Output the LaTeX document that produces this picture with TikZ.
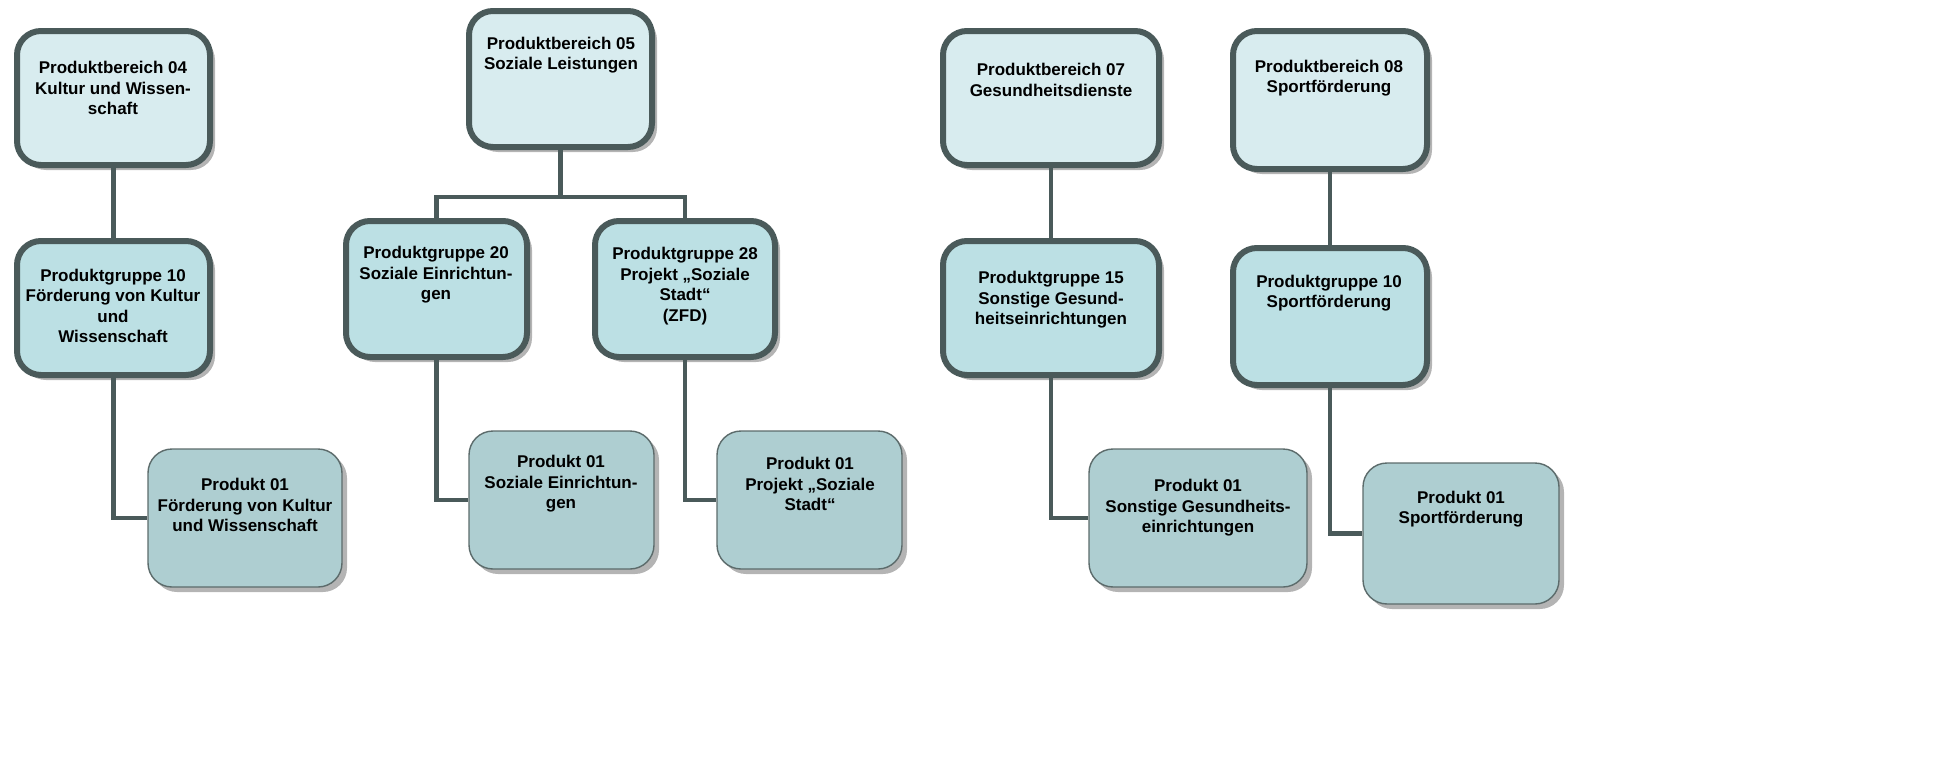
\documentclass[tikz,border=0pt]{standalone}
\usepackage{fontspec}
\setmainfont{Liberation Sans}
\usetikzlibrary{shadows,calc,backgrounds}
\begin{document}
\definecolor{edge}{HTML}{4A5A5A}
\definecolor{fillA}{HTML}{D8ECEF}
\definecolor{fillB}{HTML}{BCE0E4}
\definecolor{fillC}{HTML}{AECED1}
\definecolor{shade}{HTML}{B4B4B4}
\begin{tikzpicture}[x=0.5pt,y=-0.5pt,
  boxbase/.style={rounded corners=12pt, inner sep=0pt},
  topbox/.style={boxbase, draw=edge, line width=3pt, fill=fillA,
     drop shadow={shadow xshift=2.5pt, shadow yshift=-2.5pt, fill=shade, opacity=1}},
  grpbox/.style={boxbase, draw=edge, line width=3pt, fill=fillB,
     drop shadow={shadow xshift=2.5pt, shadow yshift=-2.5pt, fill=shade, opacity=1}},
  prodbox/.style={boxbase, draw=edge!90, line width=0.7pt, fill=fillC,
     drop shadow={shadow xshift=2.5pt, shadow yshift=-2.5pt, fill=shade, opacity=1}},
  txt/.style={align=center, font=\bfseries\fontsize{8.5}{10.25}\selectfont, inner sep=0pt},
  conn/.style={draw=edge, line width=2.3pt}]
\useasboundingbox (0,0) rectangle (1951,760);
% column 1
\node[topbox, minimum width=96.5pt, minimum height=67pt] (pb04) at (113.5,98) {};
\node[grpbox, minimum width=96.5pt, minimum height=67pt] (pg10a) at (113.5,308) {};
\node[prodbox, minimum width=97pt, minimum height=69pt] (p01a) at (245,518) {};
% column 2
\node[topbox, minimum width=91.5pt, minimum height=68pt] (pb05) at (560.5,79) {};
\node[grpbox, minimum width=90.5pt, minimum height=68pt] (pg20) at (436.5,289) {};
\node[grpbox, minimum width=90pt, minimum height=68pt] (pg28) at (685,289) {};
\node[prodbox, minimum width=92.5pt, minimum height=69pt] (p01b) at (561.5,500) {};
\node[prodbox, minimum width=92.5pt, minimum height=69pt] (p01c) at (809.5,500) {};
% column 3
\node[topbox, minimum width=108pt, minimum height=67pt] (pb07) at (1051,98) {};
\node[grpbox, minimum width=108pt, minimum height=67pt] (pg15) at (1051,308) {};
\node[prodbox, minimum width=109pt, minimum height=69pt] (p01d) at (1198,518) {};
% column 4
\node[topbox, minimum width=97pt, minimum height=69pt] (pb08) at (1330,100) {};
\node[grpbox, minimum width=97pt, minimum height=68.5pt] (pg10b) at (1330,316.5) {};
\node[prodbox, minimum width=98pt, minimum height=70.5pt] (p01e) at (1461,533.5) {};
% connectors
\draw[conn] (pb04.south) -- (pg10a.north);
\draw[conn] (pg10a.south) |- (p01a.west);
\coordinate (j05) at ($(pb05.south)+(0,47)$);
\draw[conn] (pb05.south) -- (j05);
\draw[conn] (pg20.north) |- (j05) -| (pg28.north);
\draw[conn] (pg20.south) |- (p01b.west);
\draw[conn] (pg28.south) |- (p01c.west);
\draw[conn] (pb07.south) -- (pg15.north);
\draw[conn] (pg15.south) |- (p01d.west);
\draw[conn] (pb08.south) -- (pg10b.north);
\draw[conn] (pg10b.south) |- (p01e.west);
% texts
\node[txt] (t1) at (113,88) {Produktbereich 04\\Kultur und Wissen-\\schaft};
\node[txt] (t2) at (113,306) {Produktgruppe 10\\Förderung von Kultur\\und\\Wissenschaft};
\node[txt] (t3) at (245,505) {Produkt 01\\Förderung von Kultur\\und Wissenschaft};
\node[txt] (t4) at (561,55) {Produktbereich 05\\Soziale Leistungen};
\node[txt] (t5) at (436,275) {Produktgruppe 20\\Soziale Einrichtun-\\gen};
\node[txt] (t6) at (685,286) {Produktgruppe 28\\Projekt „Soziale\\Stadt“\\(ZFD)};
\node[txt] (t7) at (561,484) {Produkt 01\\Soziale Einrichtun-\\gen};
\node[txt] (t8) at (810,484) {Produkt 01\\Projekt „Soziale\\Stadt“};
\node[txt] (t9) at (1051,80) {Produktbereich 07\\Gesundheitsdienste};
\node[txt] (t10) at (1051,300) {Produktgruppe 15\\Sonstige Gesund-\\heitseinrichtungen};
\node[txt] (t11) at (1198,508) {Produkt 01\\Sonstige Gesundheits-\\einrichtungen};
\node[txt] (t12) at (1329,78) {Produktbereich 08\\Sportförderung};
\node[txt] (t13) at (1329,293) {Produktgruppe 10\\Sportförderung};
\node[txt] (t14) at (1461,509) {Produkt 01\\Sportförderung};
\end{tikzpicture}
\end{document}
